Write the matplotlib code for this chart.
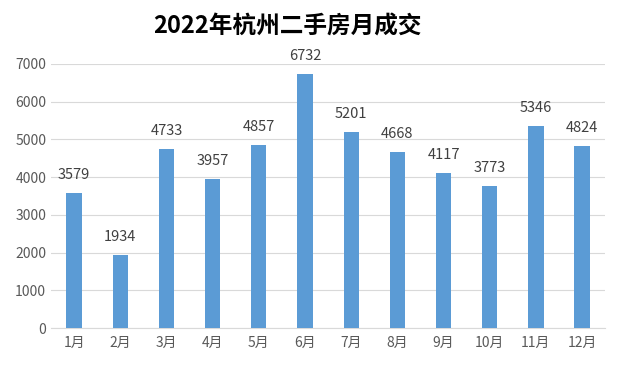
import matplotlib.pyplot as plt
import numpy as np

plt.rcParams['font.family'] = ['Noto Sans CJK SC', 'DejaVu Sans']

months = ['1月', '2月', '3月', '4月', '5月', '6月', '7月', '8月', '9月', '10月', '11月', '12月']
deals = [3579, 1934, 4733, 3957, 4857, 6732, 5201, 4668, 4117, 3773, 5346, 4824]
yticks = [0, 1000, 2000, 3000, 4000, 5000, 6000, 7000]

fig = plt.figure(figsize=(6.22, 3.69), dpi=100)
ax = fig.add_axes([0.082, 0.111, 0.891, 0.716])

x = np.arange(len(months))
ax.bar(x, deals, width=0.33, color='#5B9BD5', zorder=3)
for xi, v in zip(x, deals):
    ax.annotate(str(v), (xi, v), xytext=(0, 8), textcoords='offset points',
                ha='center', va='bottom', fontsize=10.5, color='#404040')

ax.set_xlim(-0.5, len(months) - 0.5)
ax.set_ylim(0, 7000)
ax.set_yticks(yticks)
ax.set_xticks(x)
ax.set_xticklabels(months)
ax.tick_params(axis='both', length=0, labelsize=10, colors='#595959')
ax.tick_params(axis='x', pad=6)
ax.grid(axis='y', color='#D9D9D9', linewidth=0.8, zorder=0)
for s in ['top', 'right', 'left']:
    ax.spines[s].set_visible(False)
ax.spines['bottom'].set_color('#D9D9D9')

fig.text(0.462, 0.927, '2022年杭州二手房月成交', ha='center', va='center',
         fontsize=17, fontweight='bold', color='black')

fig.savefig('out.png', dpi=100)
